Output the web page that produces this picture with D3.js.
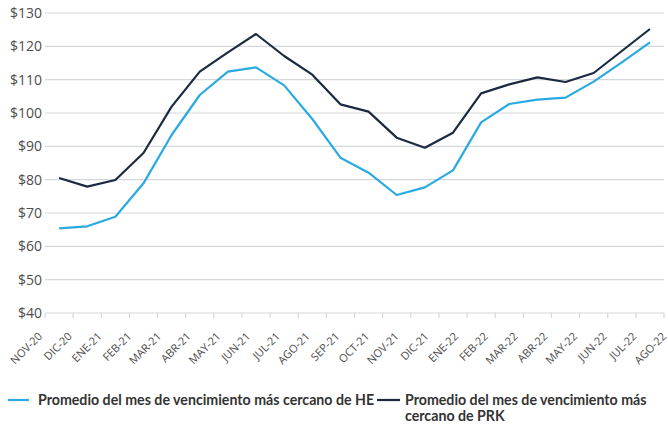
<!DOCTYPE html>
<html>
<head>
<meta charset="utf-8">
<script src="https://cdn.jsdelivr.net/npm/d3@7"></script>
<style>
  body { margin: 0; background: #fff; }
  svg { display: block; }
</style>
</head>
<body>
<div id="chart"></div>
<script>
// months on the x axis
const months = ["NOV-20", "DIC-20", "ENE-21", "FEB-21", "MAR-21", "ABR-21", "MAY-21", "JUN-21",
  "JUL-21", "AGO-21", "SEP-21", "OCT-21", "NOV-21", "DIC-21", "ENE-22", "FEB-22", "MAR-22",
  "ABR-22", "MAY-22", "JUN-22", "JUL-22", "AGO-22"];

// Promedio del mes de vencimiento más cercano de HE
const heValues = [65.4, 66.0, 68.9, 78.9, 93.4, 105.4, 112.4, 113.7, 108.3, 98.2, 86.6,
  82.1, 75.4, 77.7, 82.8, 97.2, 102.7, 104.0, 104.6, 109.4, 115.2, 121.2];

// Promedio del mes de vencimiento más cercano de PRK
const prkValues = [80.5, 77.9, 79.9, 88.0, 101.9, 112.4, 118.2, 123.7, 117.1, 111.5, 102.6,
  100.4, 92.6, 89.6, 94.1, 105.9, 108.6, 110.7, 109.3, 112.0, 118.6, 125.2];

const yTicks = [40, 50, 60, 70, 80, 90, 100, 110, 120, 130];

const seriesNames = ["Promedio del mes de vencimiento más cercano de HE",
  "Promedio del mes de vencimiento más cercano de PRK"];
const seriesColors = ["#29abe2", "#1b2a41"];

const width = 668, height = 426;
const plotLeft = 45, plotRight = 664, plotTop = 13, plotBottom = 313;

const svg = d3.select("#chart").append("svg")
  .attr("width", width)
  .attr("height", height);

const x = d3.scaleBand().domain(months).range([plotLeft, plotRight]).paddingInner(0).paddingOuter(0);
const y = d3.scaleLinear().domain([40, 130]).range([plotBottom, plotTop]);
// rotated labels sit on their own spacing in the original
const xLab = d3.scalePoint().domain(months).range([43, 667]);

// gridlines
svg.append("g")
  .selectAll("line")
  .data(yTicks.filter(d => d > 40))
  .join("line")
  .attr("x1", plotLeft).attr("x2", plotRight)
  .attr("y1", d => y(d)).attr("y2", d => y(d))
  .attr("stroke", "#d4d7db")
  .attr("stroke-width", 1.2);

// y axis labels
svg.append("g")
  .selectAll("text")
  .data(yTicks)
  .join("text")
  .attr("x", 42)
  .attr("y", d => y(d))
  .attr("dy", "0.35em")
  .attr("text-anchor", "end")
  .style("font-family", "'Open Sans', sans-serif")
  .style("font-size", "14px")
  .style("fill", "#4d4d4d")
  .text(d => "$" + d);

// x axis line + ticks between categories
const axisG = svg.append("g");
axisG.append("line")
  .attr("x1", plotLeft).attr("x2", plotRight)
  .attr("y1", plotBottom).attr("y2", plotBottom)
  .attr("stroke", "#d4d7db").attr("stroke-width", 1.2);
axisG.selectAll("line.tick")
  .data(months.map(m => x(m)).concat([plotRight]))
  .join("line")
  .attr("class", "tick")
  .attr("x1", d => d).attr("x2", d => d)
  .attr("y1", plotBottom).attr("y2", plotBottom + 5)
  .attr("stroke", "#d4d7db").attr("stroke-width", 1.2);

axisG.selectAll("text")
  .data(months)
  .join("text")
  .attr("transform", d => `translate(${xLab(d)},${plotBottom + 24}) rotate(-45)`)
  .attr("text-anchor", "end")
  .style("font-family", "'Open Sans', sans-serif")
  .style("font-size", "11px")
  .style("fill", "#4d4d4d")
  .text(d => d);

// lines
const cx = d => x(d) + x.bandwidth() / 2;
const line = d3.line()
  .x(d => cx(d.m))
  .y(d => y(d.v));

[heValues, prkValues].forEach((vals, i) => {
  svg.append("path")
    .datum(months.map((m, j) => ({ m: m, v: vals[j] })))
    .attr("d", line)
    .attr("fill", "none")
    .attr("stroke", seriesColors[i])
    .attr("stroke-width", 2.2)
    .attr("stroke-linejoin", "round");
});

// legend
const legend = svg.append("g")
  .style("font-family", "Lato, sans-serif")
  .style("font-size", "14.2px")
  .style("font-weight", "bold")
  .style("fill", "#333");

legend.append("line")
  .attr("x1", 8).attr("x2", 29).attr("y1", 400).attr("y2", 400)
  .attr("stroke", seriesColors[0]).attr("stroke-width", 2.2);
legend.append("text")
  .attr("x", 38).attr("y", 405)
  .text(seriesNames[0]);

legend.append("line")
  .attr("x1", 377).attr("x2", 400).attr("y1", 400).attr("y2", 400)
  .attr("stroke", seriesColors[1]).attr("stroke-width", 2.2);
const t2 = legend.append("text").attr("x", 405).attr("y", 405);
t2.append("tspan").attr("x", 405).text("Promedio del mes de vencimiento más");
t2.append("tspan").attr("x", 405).attr("dy", 16).text("cercano de PRK");
</script>
</body>
</html>
